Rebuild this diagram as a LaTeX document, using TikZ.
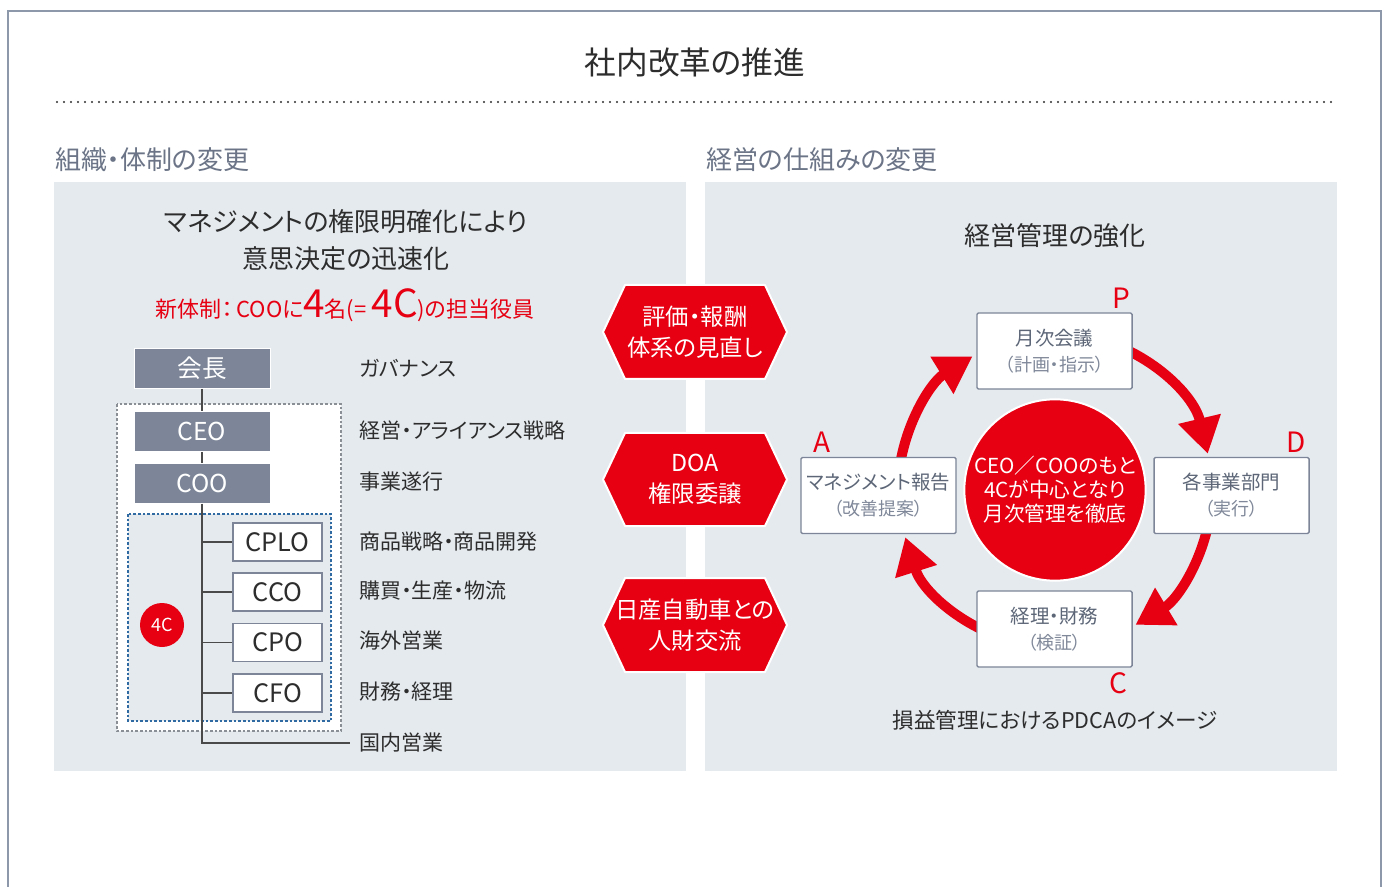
\documentclass[tikz,border=0pt]{standalone}
\usepackage{fontspec}
\setmainfont{Noto Sans CJK JP}[RawFeature={+palt}]
\usetikzlibrary{arrows.meta}
\definecolor{nred}{HTML}{E60012}
\definecolor{panel}{HTML}{E5EAEF}
\definecolor{boxgray}{HTML}{7C8698}
\definecolor{txt}{HTML}{2D2D2D}
\definecolor{subgray}{HTML}{6B7587}
\definecolor{pdcatxt}{HTML}{5C6677}
\definecolor{pdcasub}{HTML}{7F8899}
\definecolor{frameclr}{HTML}{8E98AB}
\definecolor{lineclr}{HTML}{4A4A4A}
\definecolor{dashgray}{HTML}{8A8F96}
\definecolor{dashblue}{HTML}{2F6AA3}
\newcommand\myfs[2]{\fontsize{#1}{#2}\selectfont}
\tikzset{
  orgbox/.style={fill=boxgray, draw=white, line width=0.75pt, text=white, minimum width=102pt, minimum height=30pt, inner sep=0pt, font=\myfs{18.5}{18.5}},
  cbox/.style={fill=white, draw=boxgray, line width=1.1pt, text=txt, minimum width=66.75pt, minimum height=28.5pt, inner sep=0pt, font=\myfs{19}{19}},
  lab/.style={anchor=west, text=txt, font=\myfs{15.75}{15.75}, inner sep=0pt},
  orgline/.style={draw=lineclr, line width=1.1pt},
  hexfill/.style={fill=nred, draw=white, line width=1.5pt, line join=round},
  hextext/.style={align=center, text=white, font=\myfs{17.5}{23.25}},
  pdca/.style={draw=nred, line width=7.5pt, -{Triangle[length=27pt,width=31pt]}},
  pbox/.style={fill=white, draw=boxgray, line width=1.1pt, rounded corners=1pt, minimum width=116.25pt, minimum height=57pt, align=center, inner sep=0pt, font=\myfs{14.6}{19.5}, text=pdcatxt},
  plab/.style={text=nred, font=\myfs{21}{21}, inner sep=0pt},
  subhead/.style={anchor=west, text=subgray, font=\myfs{19.5}{19.5}, inner sep=0pt}
}
\begin{document}
\begin{tikzpicture}[x=0.75pt,y=-0.75pt]
\useasboundingbox (0,0) rectangle (1384,887);
\fill[white] (0,0) rectangle (1384,887);
\draw[frameclr, line width=1.5pt] (8,887) -- (8,11) -- (1381,11) -- (1381,887);

\node[text=txt, font=\myfs{23.75}{23.75}] (title) at (695,63) {社内改革の推進};
\draw[txt, line width=1.6pt, line cap=round, dash pattern=on 0pt off 5.25pt] (57,102) -- (1335,102);

\fill[panel] (54,182) rectangle (686,771);
\fill[panel] (705,182) rectangle (1337,771);

\node[subhead] (subL) at (55,160) {組織・体制の変更};
\node[subhead] (subR) at (706,160) {経営の仕組みの変更};

% left panel
\node[align=center, text=txt, font=\myfs{19.5}{27.75}] (lhead) at (346,240) {マネジメントの権限明確化により\\意思決定の迅速化};
\node[text=nred, font=\myfs{16.5}{18}] (newsys) at (345,305) {新体制：\,COOに{\myfs{29}{29}4}名(= {\myfs{29}{29}4C})の担当役員};

\draw[dashgray, dash pattern=on 2pt off 1.5pt, line width=0.9pt, fill=white] (117,404) rectangle (341,731);
\draw[dashblue, dash pattern=on 2pt off 1.5pt, line width=0.9pt, fill=panel] (128,514) rectangle (331,721);

\node[orgbox] (chair) at (202,368.5) {会長};
\node[orgbox] (ceo) at (202,431.5) {CEO};
\node[orgbox] (coo) at (202,483) {COO};
\node[cbox] (cplo) at (277.5,542) {CPLO};
\node[cbox] (cco) at (277.5,592) {CCO};
\node[cbox] (cpo) at (277.5,642.5) {CPO};
\node[cbox] (cfo) at (277.5,693) {CFO};
\node[circle, fill=nred, text=white, minimum size=33pt, inner sep=0pt, font=\myfs{13.5}{13.5}] (fourc) at (162,625) {4C};

\node[lab] (l0) at (359,368) {ガバナンス};
\node[lab] (l1) at (359,430) {経営・アライアンス戦略};
\node[lab] (l2) at (359,482) {事業遂行};
\node[lab] (l3) at (359,542) {商品戦略・商品開発};
\node[lab] (l4) at (359,591) {購買・生産・物流};
\node[lab] (l5) at (359,641) {海外営業};
\node[lab] (l6) at (359,692) {財務・経理};
\node[lab] (l7) at (359,743) {国内営業};

\draw[orgline] (chair) -- (ceo);
\draw[orgline] (ceo) -- (coo);
\draw[orgline] (coo.south) |- ([xshift=-7pt]l7.west);
\foreach \b in {cplo,cco,cpo,cfo} \draw[orgline] (coo.south |- \b.west) -- (\b.west);

% hexagons
\path[hexfill] (603,332) -- (625,285) -- (765,285) -- (787,332) -- (765,379) -- (625,379) -- cycle;
\node[hextext] (hex1) at (695,332) {評価・報酬\\体系の見直し};
\path[hexfill] (603,479.5) -- (625,433) -- (765,433) -- (787,479.5) -- (765,526) -- (625,526) -- cycle;
\node[hextext] (hex2) at (695,479.5) {DOA\\権限委譲};
\path[hexfill] (603,625) -- (625,578) -- (765,578) -- (787,625) -- (765,672) -- (625,672) -- cycle;
\node[hextext] (hex3) at (695,625) {日産自動車との\\人財交流};

% right panel
\node[text=txt, font=\myfs{19.5}{19.5}] (mgmt) at (1055,236) {経営管理の強化};

\node[circle, fill=nred, draw=white, line width=1.5pt, minimum size=136pt, inner sep=0pt, text=white, align=center, font=\myfs{15.5}{18}] (core) at (1055,490) {CEO／COOのもと\\4Cが中心となり\\月次管理を徹底};

\draw[pdca] ([shift={(-80:157)}]core.center) arc[start angle=-80, end angle=-13.3, radius=157];
\draw[pdca] ([shift={(5:157)}]core.center) arc[start angle=5, end angle=59.2, radius=157];
\draw[pdca] ([shift={(100:157)}]core.center) arc[start angle=100, end angle=162.5, radius=157];
\draw[pdca] ([shift={(-175:157)}]core.center) arc[start angle=-175, end angle=-121.7, radius=157];

\node[pbox] (pP) at (1054.5,351) {月次会議\\{\color{pdcasub}\myfs{13.5}{19.5}（計画・指示）}};
\node[pbox] (pA) at (878.5,495.5) {マネジメント報告\\{\color{pdcasub}\myfs{13.5}{19.5}（改善提案）}};
\node[pbox] (pD) at (1231.5,495.5) {各事業部門\\{\color{pdcasub}\myfs{13.5}{19.5}（実行）}};
\node[pbox] (pC) at (1054.5,629) {経理・財務\\{\color{pdcasub}\myfs{13.5}{19.5}（検証）}};

\node[plab] (Lp) at (1121,298) {P};
\node[plab] (La) at (822,442) {A};
\node[plab] (Ld) at (1296,442) {D};
\node[plab] (Lc) at (1118,683) {C};

\node[text=txt, font=\myfs{16.2}{16.2}] (caption) at (1055,720) {損益管理におけるPDCAのイメージ};
\end{tikzpicture}
\end{document}
